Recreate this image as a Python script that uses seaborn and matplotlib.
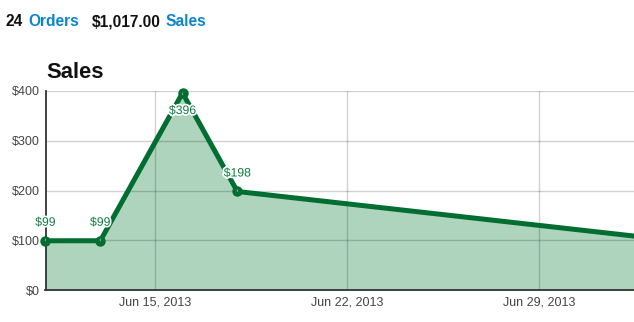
import matplotlib
matplotlib.use("Agg")
import matplotlib.pyplot as plt
import matplotlib.dates as mdates
import matplotlib.patheffects as pe
import pandas as pd
import seaborn as sns

# Daily sales totals
dates = ["2013-06-11", "2013-06-13", "2013-06-16", "2013-06-18", "2013-07-04"]
sales = [99, 99, 396, 198, 99]
y_ticks = [0, 100, 200, 300, 400]
x_ticks = ["2013-06-15", "2013-06-22", "2013-06-29"]
order_count = "24"
sales_total = "$1,017.00"

LINE = "#006e30"
FILL = "#aed4bd"
LABEL = "#0b7f3f"
BLUE = "#0a86d0"

sns.set_theme(style="white")
plt.rcParams["font.family"] = ["Liberation Sans", "DejaVu Sans"]

df = pd.DataFrame({"date": pd.to_datetime(dates), "sales": sales})

W, H = 634, 322
fig = plt.figure(figsize=(W / 100, H / 100), dpi=100)
ax = fig.add_axes([45.5 / W, 1 - 290 / H, 1 - 45.5 / W, (290 - 91) / H])

ax.fill_between(df["date"], df["sales"], 0, color=FILL, linewidth=0, zorder=1)
sns.lineplot(data=df, x="date", y="sales", ax=ax, color=LINE, linewidth=3.6,
             marker="o", markersize=7.5, markeredgewidth=0, zorder=3,
             clip_on=False)

x_left = pd.Timestamp("2013-06-11")
x_right = pd.Timestamp("2013-07-02 11:20")
ax.set_xlim(x_left, x_right)
ax.set_ylim(0, 400)

ax.set_yticks(y_ticks)
ax.set_yticklabels([f"${v}" for v in y_ticks])
ax.set_xticks(pd.to_datetime(x_ticks))
ax.xaxis.set_major_formatter(mdates.DateFormatter("%b %d, %Y"))
ax.tick_params(axis="both", length=0, labelsize=9, colors="#444444")
ax.tick_params(axis="x", pad=5)
ax.tick_params(axis="y", pad=4)
ax.set_xlabel("")
ax.set_ylabel("")

ax.set_axisbelow("line")
ax.grid(True, color="black", alpha=0.18, linewidth=1)

for side in ("top", "right"):
    ax.spines[side].set_visible(False)
for side in ("left", "bottom"):
    ax.spines[side].set_color("#333333")
    ax.spines[side].set_linewidth(1.3)

# Value labels with a short stem; the peak gets its label below the point
for d, v in zip(df["date"], df["sales"]):
    if d > x_right:
        continue
    below = v == max(sales)
    off = -18 if below else 18
    ax.annotate(f"${v}", xy=(d, v), xytext=(0, off), textcoords="offset pixels",
                ha="center", va="center", fontsize=8.8, color=LABEL,
                path_effects=[pe.withStroke(linewidth=2.5, foreground="white")],
                arrowprops=dict(arrowstyle="-", color="#999999", lw=0.8,
                                shrinkA=5, shrinkB=4),
                zorder=5, annotation_clip=False)

# Header line and chart title
def ftext(px, py, s, **kw):
    fig.text(px / W, 1 - py / H, s, fontsize=11.2, fontweight="bold",
             va="baseline", ha="left", **kw)

ftext(6, 26.5, order_count, color="#111111")
ftext(28, 26.5, "Orders", color=BLUE)
ftext(92, 26.5, sales_total, color="#111111")
ftext(165.5, 26.5, "Sales", color=BLUE)
fig.text(46 / W, 1 - 77.5 / H, "Sales", fontsize=15.8, fontweight="bold",
         color="#111111", va="baseline", ha="left")

fig.savefig("out.png", dpi=100)
